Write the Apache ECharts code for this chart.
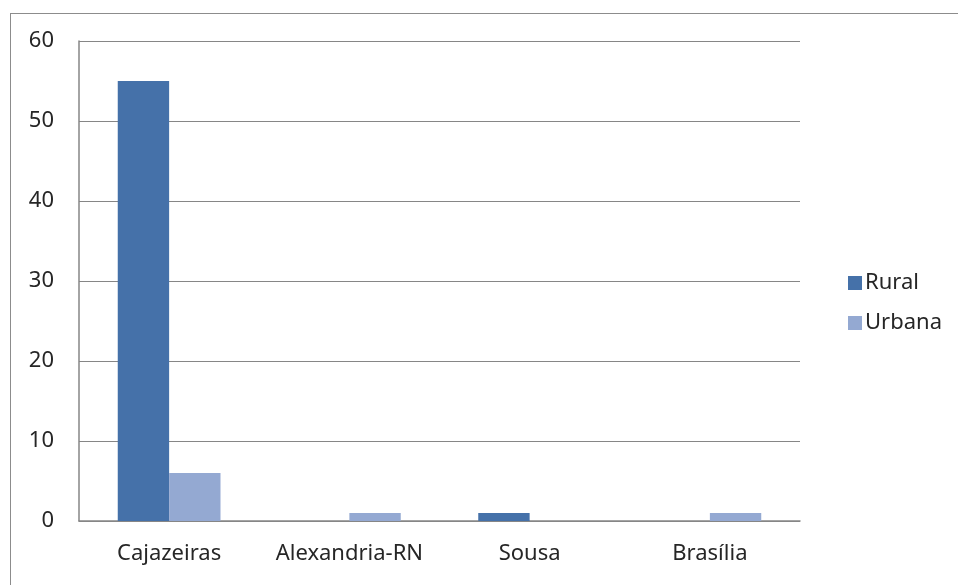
<!DOCTYPE html>
<html><head><meta charset="utf-8">
<script src="https://cdn.jsdelivr.net/npm/echarts@6/dist/echarts.min.js"></script>
<style>
html,body{margin:0;padding:0;background:#fff;}
#frame{position:absolute;left:10px;top:13px;width:960px;height:590px;border:1px solid #8c8c8c;box-sizing:border-box;}
#c{position:absolute;left:0;top:0;width:958px;height:585px;}
</style></head>
<body>
<div id="frame"></div>
<div id="c"></div>
<script>
const categories = ['Cajazeiras','Alexandria-RN','Sousa','Brasília'];
const rural = [55, 0, 1, 0];
const urbana = [6, 1, 0, 1];
const yTicks = {min:0, max:60, interval:10};

const chart = echarts.init(document.getElementById('c'));
const font = 'Noto Sans';
chart.setOption({
  animation:false,
  grid:{left:79, right:158, top:41, bottom:64},
  legend:{
    orient:'vertical', left:843, top:267, itemWidth:14, itemHeight:14, itemGap:18,
    icon:'rect',
    textStyle:{fontFamily:font, fontSize:22, color:'#262626', padding:[0,0,0,-2]},
    data:['Rural','Urbana']
  },
  xAxis:{
    type:'category', data:categories,
    axisLine:{lineStyle:{color:'#868686', width:1.5}},
    axisTick:{show:false},
    axisLabel:{fontFamily:font, fontSize:22, color:'#262626', margin:22, interval:0, hideOverlap:false}
  },
  yAxis:{
    type:'value', min:yTicks.min, max:yTicks.max, interval:yTicks.interval,
    axisLine:{show:true, lineStyle:{color:'#868686', width:1.5}},
    axisTick:{show:false},
    axisLabel:{fontFamily:font, fontSize:22, color:'#262626', margin:25},
    splitLine:{lineStyle:{color:'#868686', width:1.2}}
  },
  series:[
    {name:'Rural', type:'bar', data:rural, barGap:'0%', barCategoryGap:'43%', itemStyle:{color:'#4571a9'}},
    {name:'Urbana', type:'bar', data:urbana, itemStyle:{color:'#94a9d2'}}
  ]
});
</script>
</body></html>
